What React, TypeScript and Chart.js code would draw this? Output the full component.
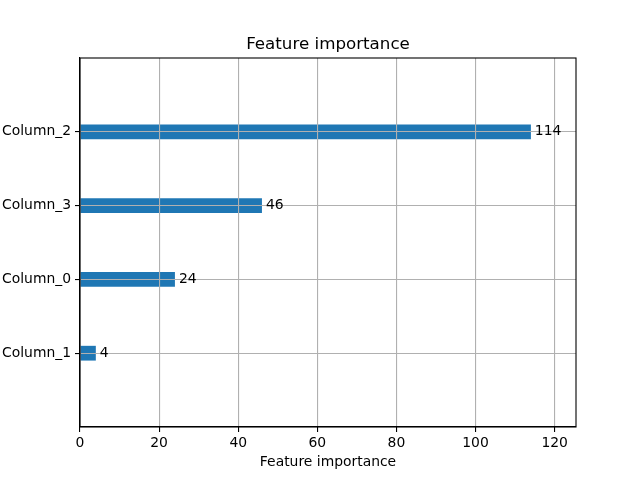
import React, { useEffect, useRef } from "react";
import { Chart, registerables } from "chart.js";

Chart.register(...registerables);

const features = ["Column_1", "Column_0", "Column_3", "Column_2"];
const importances = [4, 24, 46, 114];
const xTicks = [0, 20, 40, 60, 80, 100, 120];
const titleText = "Feature importance";
const xLabel = "Feature importance";

const FONT = "'DejaVu Sans', sans-serif";

const overlay = {
  id: "overlay",
  afterDraw(chart: any) {
    const { ctx, chartArea } = chart;
    const xs = chart.scales.x;
    const ys = chart.scales.y;
    ctx.save();
    // frame
    ctx.strokeStyle = "#000";
    ctx.lineWidth = 1.1;
    ctx.strokeRect(chartArea.left, chartArea.top, chartArea.right - chartArea.left, chartArea.bottom - chartArea.top);
    // value labels
    ctx.fillStyle = "#000";
    ctx.font = `13.9px ${FONT}`;
    ctx.textBaseline = "middle";
    ctx.textAlign = "left";
    importances.forEach((v, i) => {
      ctx.fillText(String(v), xs.getPixelForValue(v + 1), ys.getPixelForValue(i));
    });
    // title
    ctx.font = `16.7px ${FONT}`;
    ctx.textAlign = "center";
    ctx.textBaseline = "alphabetic";
    ctx.fillText(titleText, (chartArea.left + chartArea.right) / 2, chartArea.top - 9);
    ctx.restore();
  },
};

export default function App() {
  const ref = useRef<HTMLCanvasElement>(null);
  useEffect(() => {
    const chart = new Chart(ref.current!, {
      type: "bar",
      data: {
        datasets: [
          {
            data: importances.map((v, i) => ({ x: v, y: i })),
            backgroundColor: "#1f77b4",
            borderWidth: 0,
            categoryPercentage: 0.2,
            barPercentage: 1,
          } as any,
        ],
      },
      options: {
        indexAxis: "y",
        animation: false,
        responsive: false,
        devicePixelRatio: 1,
        layout: { padding: { top: 58, right: 64, left: 0, bottom: 9 } },
        plugins: { legend: { display: false }, tooltip: { enabled: false } },
        scales: {
          x: {
            type: "linear",
            min: 0,
            max: 125.4,
            afterBuildTicks: (s: any) => {
              s.ticks = xTicks.map((v) => ({ value: v }));
            },
            afterFit: (s: any) => {
              s.height = 44;
            },
            grid: { color: "#b0b0b0", lineWidth: 1.1, tickColor: "#000", tickLength: 5, drawTicks: true, z: 1 } as any,
            border: { color: "#000", width: 1.1, z: 2 } as any,
            ticks: { color: "#000", font: { family: FONT, size: 13.9 }, padding: 3, maxRotation: 0 },
            title: { display: true, text: xLabel, color: "#000", font: { family: FONT, size: 13.9 }, padding: { top: 2, bottom: 0 } },
          },
          y: {
            type: "linear",
            min: -1,
            max: 4,
            offset: false,
            afterBuildTicks: (s: any) => {
              s.ticks = features.map((_, i) => ({ value: i }));
            },
            afterFit: (s: any) => {
              s.width = 80;
            },
            grid: { color: "#b0b0b0", lineWidth: 1.1, tickColor: "#000", tickLength: 5, offset: false, z: 1 } as any,
            border: { color: "#000", width: 1.1, z: 2 } as any,
            ticks: {
              color: "#000",
              font: { family: FONT, size: 13.9 },
              padding: 4,
              callback: (v: any) => features[v as number] ?? "",
            },
          },
        },
      },
      plugins: [overlay],
    });
    return () => chart.destroy();
  }, []);
  return (
    <div style={{ position: "fixed", left: 0, top: 0, width: 640, height: 480, background: "#fff" }}>
      <canvas ref={ref} width={640} height={480} />
    </div>
  );
}
